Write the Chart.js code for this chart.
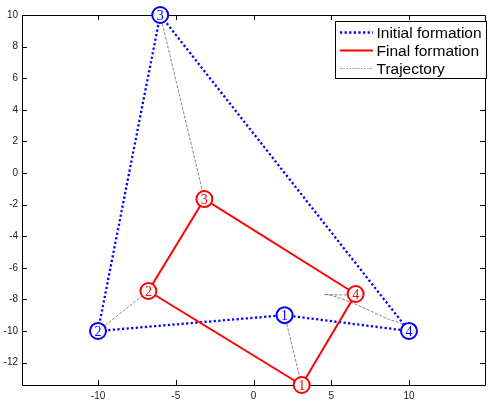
<!DOCTYPE html>
<html>
<head>
<meta charset="utf-8">
<script src="https://cdn.jsdelivr.net/npm/chart.js@4.4.0/dist/chart.umd.min.js"></script>
<style>
  html, body { margin: 0; padding: 0; background: #fff; overflow: hidden; }
  #wrap { width: 495px; height: 406px; }
</style>
</head>
<body>
<div id="wrap"><canvas id="plot" width="495" height="406"></canvas></div>
<script>
// tick labels
const xTickValues = [-10, -5, 0, 5, 10];
const yTickValues = [-12, -10, -8, -6, -4, -2, 0, 2, 4, 6, 8, 10];
// agent numbers
const agentLabels = ["1", "2", "3", "4"];
// initial formation (blue)
const initX = [2, -10, -6, 10];
const initY = [-9, -10, 10, -10];
// final formation (red)
const finalX = [3.1, -6.76, -3.16, 6.57];
const finalY = [-13.42, -7.47, -1.65, -7.66];
// curved path of agent 4
const path4X = [10, 9.64, 8.69, 7.63, 6.15, 4.56, 6.0, 6.57];
const path4Y = [-10, -9.62, -9.26, -8.78, -8.14, -7.68, -7.72, -7.66];

const BLUE = "#0000ff";
const RED = "#ff0000";
const GRAY = "#777777";

const toPts = (xs, ys) => xs.map((x, i) => ({ x: x, y: ys[i] }));
const closed = (xs, ys) => { let p = toPts(xs, ys); p.push(p[0]); return p; };

const lineBase = { showLine: true, pointRadius: 0, fill: false, clip: false, tension: 0 };

let datasets = [];
// markers on top
datasets.push({ label: "init markers", data: toPts(initX, initY), showLine: false, pointRadius: 8,
  pointBorderWidth: 2, pointBorderColor: BLUE, pointBackgroundColor: "#fff", clip: false, order: 0, textColor: BLUE });
datasets.push({ label: "final markers", data: toPts(finalX, finalY), showLine: false, pointRadius: 8,
  pointBorderWidth: 2, pointBorderColor: RED, pointBackgroundColor: "#fff", clip: false, order: 0, textColor: RED });
datasets.push(Object.assign({ label: "Final formation", data: closed(finalX, finalY), borderColor: RED,
  borderWidth: 2, order: 1 }, lineBase));
datasets.push(Object.assign({ label: "Initial formation", data: closed(initX, initY), borderColor: BLUE,
  borderWidth: 2.3, borderDash: [2.2, 2.4], order: 2 }, lineBase));
for (let i = 0; i < 3; i++) {
  datasets.push(Object.assign({ label: "Trajectory", data: [{ x: initX[i], y: initY[i] }, { x: finalX[i], y: finalY[i] }],
    borderColor: GRAY, borderWidth: 0.9, borderDash: [3, 1.5], order: 3 }, lineBase));
}
datasets.push(Object.assign({ label: "Trajectory", data: toPts(path4X, path4Y), borderColor: GRAY,
  borderWidth: 0.9, borderDash: [3, 1.5], order: 3, cubicInterpolationMode: "monotone" }, lineBase));

//frame with inward ticks, drawn under the data
const framePlugin = {
  id: "frame",
  beforeDatasetsDraw(chart) {
    const ctx = chart.ctx, a = chart.chartArea;
    const xs = chart.scales.x, ys = chart.scales.y;
    ctx.save();
    ctx.strokeStyle = "#000";
    ctx.lineWidth = 1;
    ctx.beginPath();
    ctx.rect(Math.round(a.left) + 0.5, Math.round(a.top) + 0.5, Math.round(a.right - a.left), Math.round(a.bottom - a.top));
    xTickValues.forEach(v => {
      const px = Math.round(xs.getPixelForValue(v)) + 0.5;
      ctx.moveTo(px, a.bottom); ctx.lineTo(px, a.bottom - 5);
      ctx.moveTo(px, a.top); ctx.lineTo(px, a.top + 5);
    });
    yTickValues.forEach(v => {
      const py = Math.round(ys.getPixelForValue(v)) + 0.5;
      ctx.moveTo(a.left, py); ctx.lineTo(a.left + 5, py);
      ctx.moveTo(a.right, py); ctx.lineTo(a.right - 5, py);
    });
    ctx.stroke();
    ctx.restore();
  }
};

//numbers inside the circles + legend box
const labelPlugin = {
  id: "labels",
  afterDatasetsDraw(chart) {
    const ctx = chart.ctx;
    ctx.save();
    ctx.font = "14px 'Liberation Serif', 'DejaVu Serif', serif";
    ctx.textAlign = "center";
    ctx.textBaseline = "middle";
    [0, 1].forEach(di => {
      const meta = chart.getDatasetMeta(di);
      ctx.fillStyle = chart.data.datasets[di].textColor;
      meta.data.forEach((pt, i) => ctx.fillText(agentLabels[i], pt.x, pt.y + 1));
    });
    ctx.restore();
  },
  afterDraw(chart) {
    const ctx = chart.ctx;
    const items = [
      { text: "Initial formation", color: BLUE, width: 2.3, dash: [2.2, 2.4] },
      { text: "Final formation", color: RED, width: 2, dash: [] },
      { text: "Trajectory", color: "#a0a0a0", width: 0.9, dash: [2, 1] }
    ];
    ctx.save();
    ctx.fillStyle = "#fff";
    ctx.fillRect(336, 21, 151, 57);
    ctx.strokeStyle = "#000";
    ctx.lineWidth = 1;
    ctx.strokeRect(335.5, 21.5, 151, 57);
    ctx.font = "15.5px 'Liberation Sans', Arial, sans-serif";
    ctx.textBaseline = "middle";
    ctx.textAlign = "left";
    items.forEach((it, i) => {
      const y = 32.5 + i * 18;
      ctx.beginPath();
      ctx.strokeStyle = it.color;
      ctx.lineWidth = it.width;
      ctx.setLineDash(it.dash);
      ctx.moveTo(340, y); ctx.lineTo(373, y);
      ctx.stroke();
      ctx.setLineDash([]);
      ctx.fillStyle = "#000";
      ctx.fillText(it.text, 376.5, y + 1);
    });
    ctx.restore();
  }
};

const tickFont = { family: "'Liberation Sans', Arial, sans-serif", size: 10 };

new Chart(document.getElementById("plot"), {
  type: "scatter",
  data: { datasets: datasets },
  plugins: [framePlugin, labelPlugin],
  options: {
    responsive: false,
    devicePixelRatio: 1,
    animation: false,
    events: [],
    layout: { padding: { top: 15, right: 4, left: 0, bottom: 0 } },
    plugins: { legend: { display: false }, tooltip: { enabled: false } },
    scales: {
      x: {
        type: "linear",
        min: -14.89, max: 14.89,
        grid: { display: false, drawTicks: false },
        border: { display: false },
        afterBuildTicks: s => { s.ticks = xTickValues.map(v => ({ value: v })); },
        afterFit: s => { s.height = 21; },
        ticks: { font: tickFont, color: "#222", padding: 5, maxRotation: 0, autoSkip: false }
      },
      y: {
        type: "linear",
        min: -13.42, max: 10,
        grid: { display: false, drawTicks: false },
        border: { display: false },
        afterBuildTicks: s => { s.ticks = yTickValues.map(v => ({ value: v })); },
        afterFit: s => { s.width = 22; },
        ticks: { font: tickFont, color: "#222", padding: 4, autoSkip: false }
      }
    }
  }
});
</script>
</body>
</html>
